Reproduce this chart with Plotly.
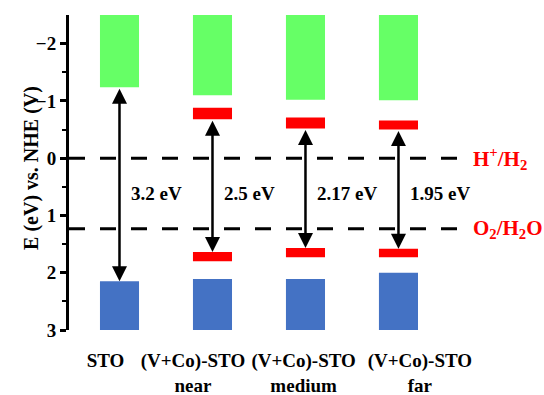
import plotly.graph_objects as go

# Band-edge positions (eV vs. NHE) for each sample
samples = ["STO", "(V+Co)-STO<br>near", "(V+Co)-STO<br>medium", "(V+Co)-STO<br>far"]
pos = [0, 1, 2, 3]
label_pos = [-0.15, 0.79, 1.98, 3.23]
cb_edge = [-1.24, -1.10, -1.02, -1.01]      # bottom of conduction band block
vb_edge = [2.15, 2.11, 2.11, 2.00]          # top of valence band block
up_top = [-0.88, -0.71, -0.66]              # upper impurity level (top)
up_bot = [-0.68, -0.52, -0.50]              # upper impurity level (bottom)
lo_top = [1.64, 1.57, 1.58]                 # lower impurity level (top)
lo_bot = [1.80, 1.73, 1.73]                 # lower impurity level (bottom)
gaps = ["3.2 eV", "2.5 eV", "2.17 eV", "1.95 eV"]
gap_y = 0.61
redox = [0.0, 1.23]
redox_names = ["H<sup>+</sup>/H<sub>2</sub>", "O<sub>2</sub>/H<sub>2</sub>O"]

y_top, y_bot = -2.5, 3.0
bw = 0.42
FONT = "Liberation Serif"
GREEN, BLUE, RED = "#66FF66", "#4472C4", "#FF0000"

fig = go.Figure()
fig.add_bar(x=pos, base=[y_top] * 4, y=[c - y_top for c in cb_edge],
            width=bw, marker=dict(color=GREEN, line_width=0))
fig.add_bar(x=pos, base=vb_edge, y=[y_bot - v for v in vb_edge],
            width=bw, marker=dict(color=BLUE, line_width=0))
fig.add_bar(x=pos[1:], base=up_top, y=[b - t for t, b in zip(up_top, up_bot)],
            width=bw, marker=dict(color=RED, line_width=0))
fig.add_bar(x=pos[1:], base=lo_top, y=[b - t for t, b in zip(lo_top, lo_bot)],
            width=bw, marker=dict(color=RED, line_width=0))

# redox potential reference lines
for yv, name in zip(redox, redox_names):
    fig.add_shape(type="line", xref="x", x0=-0.543, x1=3.63, y0=yv, y1=yv,
                  line=dict(color="black", width=3, dash="16px,15px"))
    fig.add_annotation(x=3.78, y=yv, text=name, showarrow=False, xanchor="left",
                       font=dict(family=FONT, size=21, color=RED, weight="bold"))

# double-headed arrows spanning the gaps
arrow_top = [cb_edge[0]] + up_bot
arrow_bot = [vb_edge[0]] + lo_top
for p, t, b, g in zip(pos, arrow_top, arrow_bot, gaps):
    fig.add_annotation(x=p, y=b, ax=p, ay=t, xref="x", yref="y", axref="x", ayref="y",
                       showarrow=True, arrowhead=2, startarrowhead=2, arrowside="end+start",
                       arrowsize=1.2, startarrowsize=1.2, arrowwidth=2.5, arrowcolor="black",
                       standoff=0, startstandoff=0, text="")
    fig.add_annotation(x=p + 0.1, y=gap_y, text=g, showarrow=False, xanchor="left",
                       font=dict(family=FONT, size=19, color="black", weight="bold"))

fig.add_annotation(xref="paper", yref="paper", x=0, y=0.513, xshift=-51,
                   text="E (eV) vs. NHE (V)", textangle=-90, showarrow=False,
                   font=dict(family=FONT, size=20, color="black", weight="bold"))

fig.update_layout(
    width=544, height=395, margin=dict(l=69, r=0, t=15, b=65, autoexpand=False),
    paper_bgcolor="white", plot_bgcolor="white", showlegend=False, barmode="overlay",
    xaxis=dict(range=[-0.543, 4.565], showgrid=False, zeroline=False, showline=False,
               automargin=False,
               tickvals=label_pos, ticktext=samples, ticks="", ticklabelstandoff=17,
               tickfont=dict(family=FONT, size=19, color="black", weight="bold")),
    yaxis=dict(range=[y_bot, y_top], showgrid=False, zeroline=False, showline=True,
               automargin=False,
               linecolor="black", linewidth=3, ticks="outside", ticklen=6, tickwidth=3,
               tickcolor="black", tickvals=[-2, -1, 0, 1, 2, 3],
               minor=dict(tickvals=[-1.5, -0.5, 0.5, 1.5, 2.5], ticks="outside",
                          ticklen=4, tickwidth=2, tickcolor="black"),
               tickfont=dict(family=FONT, size=19, color="black", weight="bold")),
)

fig.write_html("out.html")
